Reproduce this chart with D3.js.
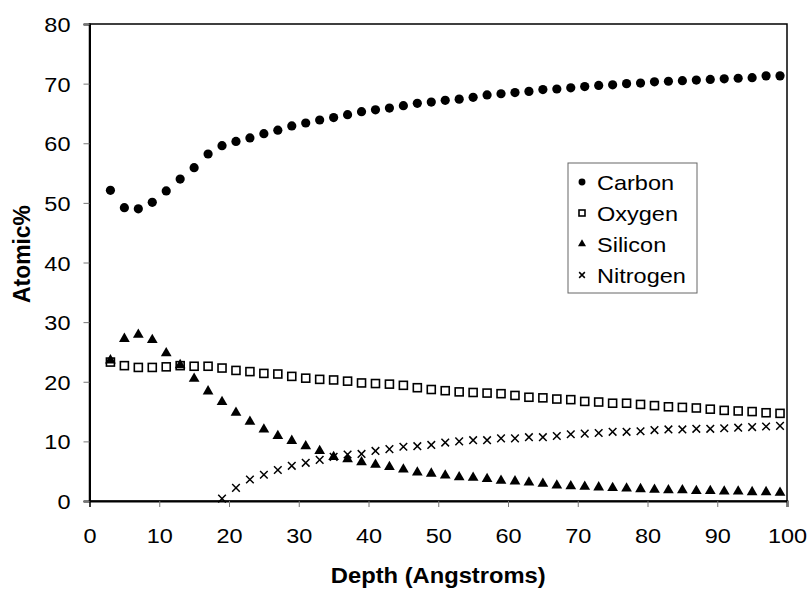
<!DOCTYPE html>
<html>
<head>
<meta charset="utf-8">
<script src="https://cdn.jsdelivr.net/npm/d3@7"></script>
<style>
  body { margin: 0; background: #fff; }
  text { font-family: "Liberation Sans", Arial, sans-serif; fill: #000; }
</style>
</head>
<body>
<div id="chart"></div>
<script>
// depth values (Angstroms), one per measurement
const depth = d3.range(3, 100, 2);

const carbon = [52.1, 49.2, 49.0, 50.1, 52.0, 54.0, 55.9, 58.2, 59.6, 60.3,
  60.9, 61.6, 62.2, 62.9, 63.4, 63.9, 64.3, 64.8, 65.3, 65.6,
  65.9, 66.3, 66.7, 66.9, 67.2, 67.4, 67.7, 68.1, 68.3, 68.5,
  68.7, 69.0, 69.1, 69.3, 69.5, 69.7, 69.8, 70.0, 70.1, 70.3,
  70.4, 70.5, 70.6, 70.7, 70.8, 70.9, 71.0, 71.3, 71.3];
const oxygen = [23.3, 22.7, 22.4, 22.4, 22.5, 22.7, 22.6, 22.6, 22.3, 21.9,
  21.7, 21.4, 21.3, 20.9, 20.6, 20.4, 20.3, 20.1, 19.8, 19.7,
  19.6, 19.4, 19.0, 18.7, 18.5, 18.3, 18.2, 18.1, 18.0, 17.7,
  17.4, 17.3, 17.1, 17.0, 16.7, 16.6, 16.4, 16.4, 16.2, 16.0,
  15.8, 15.7, 15.6, 15.4, 15.2, 15.1, 15.0, 14.8, 14.7];
const silicon = [23.6, 27.2, 27.9, 27.0, 24.8, 22.8, 20.5, 18.4, 16.6, 14.8,
  13.3, 12.0, 10.9, 10.1, 9.2, 8.4, 7.4, 7.0, 6.5, 6.1,
  5.7, 5.3, 4.8, 4.6, 4.3, 4.0, 3.9, 3.7, 3.4, 3.3,
  3.1, 2.9, 2.6, 2.5, 2.4, 2.3, 2.2, 2.1, 2.0, 1.9,
  1.8, 1.8, 1.7, 1.7, 1.6, 1.6, 1.5, 1.5, 1.4];
// nitrogen starts at 19 A
const nitrogenDepth = d3.range(19, 100, 2);
const nitrogen = [0.4, 2.2, 3.6, 4.4, 5.2, 5.9, 6.4, 6.9, 7.4, 7.8,
  7.9, 8.4, 8.7, 9.1, 9.2, 9.4, 9.8, 10.0, 10.2, 10.2,
  10.5, 10.5, 10.7, 10.7, 10.9, 11.2, 11.3, 11.4, 11.6, 11.6,
  11.7, 11.9, 12.0, 12.0, 12.1, 12.1, 12.2, 12.3, 12.4, 12.5, 12.6];

const seriesNames = ['Carbon', 'Oxygen', 'Silicon', 'Nitrogen'];
const xTicks = d3.range(0, 101, 10);
const yTicks = d3.range(0, 81, 10);

const width = 808, height = 591;
const margin = { left: 89.5, right: 21, top: 24, bottom: 90 };
const stretch = 1.12; // the scan's text is a bit wider than plain Arial

const svg = d3.select('#chart').append('svg')
  .attr('width', width)
  .attr('height', height);

const x = d3.scaleLinear().domain([0, 100]).range([margin.left, width - margin.right]);
const y = d3.scaleLinear().domain([0, 80]).range([height - margin.bottom, margin.top]);

// frame
svg.append('rect')
  .attr('x', x(0)).attr('y', y(80))
  .attr('width', x(100) - x(0)).attr('height', y(0) - y(80))
  .attr('fill', 'none').attr('stroke', '#000').attr('stroke-width', 1.5);

// axes
const xAxis = svg.append('g')
  .attr('transform', 'translate(0,' + y(0) + ')')
  .call(d3.axisBottom(x).tickValues(xTicks).tickSize(6));
const yAxis = svg.append('g')
  .attr('transform', 'translate(' + x(0) + ',0)')
  .call(d3.axisLeft(y).tickValues(yTicks).tickSize(6));

[xAxis, yAxis].forEach(function (a) {
  a.select('.domain').attr('stroke-width', 2);
  a.selectAll('.tick line').attr('stroke', '#777').attr('stroke-width', 1);
  a.selectAll('.tick text')
    .style('font-family', '"Liberation Sans", Arial, sans-serif')
    .attr('font-size', 21);
});
xAxis.selectAll('.tick text')
  .attr('x', 0).attr('y', 0).attr('dy', null)
  .attr('transform', 'translate(0,42) scale(' + stretch + ',1)');
yAxis.selectAll('.tick text')
  .attr('x', 0).attr('dy', '0.36em')
  .attr('transform', 'translate(-19,0) scale(' + stretch + ',1)');

// axis titles
svg.append('text')
  .attr('transform', 'translate(' + (x(0) + x(100)) / 2 + ',583) scale(1.08,1)')
  .attr('text-anchor', 'middle')
  .attr('font-size', 22).attr('font-weight', 'bold')
  .text('Depth (Angstroms)');
svg.append('text')
  .attr('transform', 'translate(30,254) rotate(-90) scale(1.04,1.1)')
  .attr('text-anchor', 'middle')
  .attr('font-size', 22).attr('font-weight', 'bold')
  .text('Atomic%');

function drawMarker(sel, name, s) {
  s = s || 1;
  if (name === 'Carbon') {
    sel.append('circle').attr('r', 4.6 * s).attr('fill', '#000');
  } else if (name === 'Oxygen') {
    sel.append('rect').attr('x', -4 * s).attr('y', -4 * s)
      .attr('width', 8 * s).attr('height', 8 * s)
      .attr('fill', '#fff').attr('stroke', '#000').attr('stroke-width', 1.6);
  } else if (name === 'Silicon') {
    sel.append('path').attr('d', d3.symbol().type(d3.symbolTriangle).size(50 * s * s)()).attr('fill', '#000');
  } else {
    const c = 3.8 * s;
    sel.append('path').attr('d', 'M' + -c + ',' + -c + 'L' + c + ',' + c + 'M' + -c + ',' + c + 'L' + c + ',' + -c)
      .attr('stroke', '#000').attr('stroke-width', 1.5).attr('fill', 'none');
  }
}

const series = [
  { name: 'Oxygen', xs: depth, ys: oxygen },
  { name: 'Nitrogen', xs: nitrogenDepth, ys: nitrogen },
  { name: 'Silicon', xs: depth, ys: silicon },
  { name: 'Carbon', xs: depth, ys: carbon }
];

series.forEach(function (s) {
  const pts = s.xs.map(function (d, i) { return [d, s.ys[i]]; });
  svg.append('g').selectAll('g')
    .data(pts)
    .enter().append('g')
    .attr('transform', function (d) { return 'translate(' + x(d[0]) + ',' + y(d[1]) + ')'; })
    .each(function () { drawMarker(d3.select(this), s.name); });
});

// legend
const legend = svg.append('g').attr('transform', 'translate(568,163)');
legend.append('rect')
  .attr('width', 129).attr('height', 130)
  .attr('fill', '#fff').attr('stroke', '#666').attr('stroke-width', 1);
seriesNames.forEach(function (n, i) {
  const row = legend.append('g').attr('transform', 'translate(0,' + (19 + i * 31) + ')');
  drawMarker(row.append('g').attr('transform', 'translate(14,0)'), n, 0.75);
  row.append('text').attr('dy', '0.36em')
    .attr('transform', 'translate(29,0) scale(' + stretch + ',1)')
    .attr('font-size', 21).text(n);
});
</script>
</body>
</html>
